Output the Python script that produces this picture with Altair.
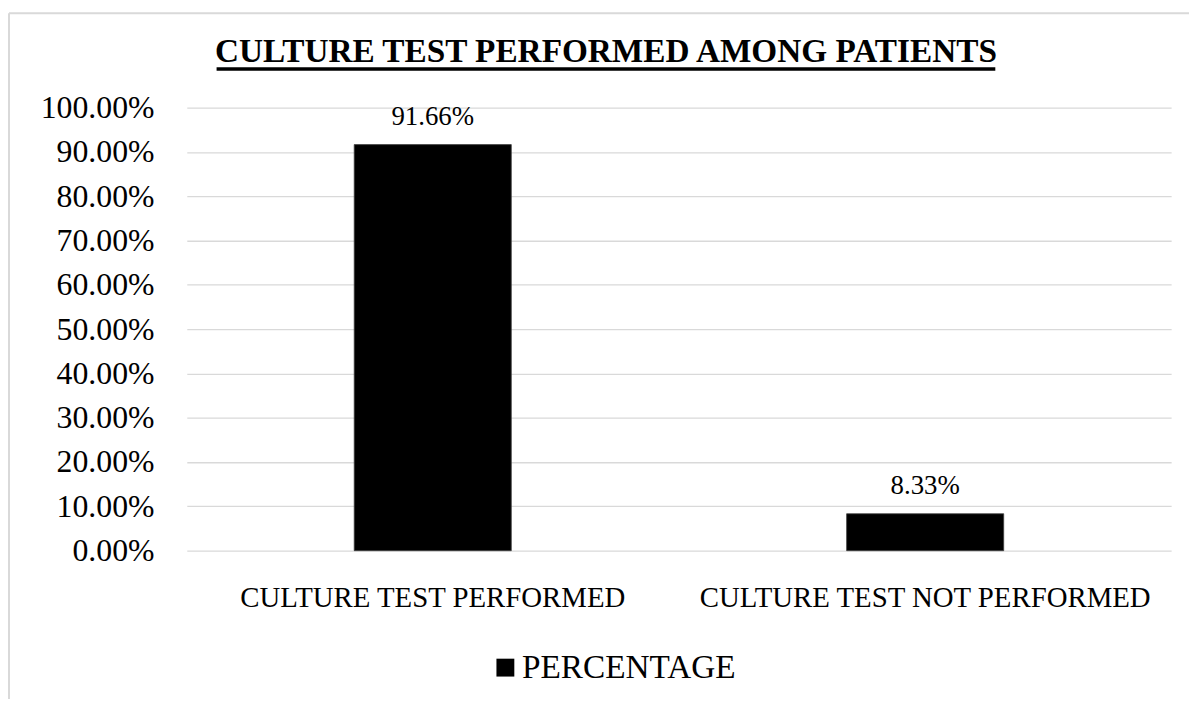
import altair as alt
import pandas as pd

categories = ["CULTURE TEST PERFORMED", "CULTURE TEST NOT PERFORMED"]
percentages = [0.9166, 0.0833]
series = ["PERCENTAGE", "PERCENTAGE"]
y_ticks = [0.0, 0.1, 0.2, 0.3, 0.4, 0.5, 0.6, 0.7, 0.8, 0.9, 1.0]
title_text = ["CULTURE TEST PERFORMED AMONG PATIENTS"]

df = pd.DataFrame({"category": categories, "value": percentages, "series": series})
title_df = pd.DataFrame({"t": title_text})
one = pd.DataFrame({"k": [0]})

W, H = 991, 446
FONT = "Liberation Serif"
GRID = "#d9d9d9"

x = alt.X("category:N", sort=categories,
          scale=alt.Scale(paddingInner=0.681, paddingOuter=0.34),
          axis=alt.Axis(title=None, labelAngle=0, labelFontSize=29, labelFont=FONT,
                        labelColor="#000000", labelPadding=33, labelLimit=0,
                        domain=False, ticks=False, grid=False))
y = alt.Y("value:Q", scale=alt.Scale(domain=[0, 1]),
          axis=alt.Axis(title=None, values=y_ticks, format=".2%", labelFontSize=32,
                        labelFont=FONT, labelColor="#000000", labelPadding=33,
                        domain=False, ticks=False, gridColor=GRID, gridWidth=1.3))

bars = alt.Chart(df).mark_bar(stroke="#404040", strokeWidth=0.8).encode(
    x=x, y=y,
    color=alt.Color("series:N", scale=alt.Scale(range=["#000000"]),
                    legend=alt.Legend(title=None, orient="none", legendX=304, legendY=547,
                                      symbolType="square", symbolSize=324,
                                      symbolStrokeWidth=0, labelFont=FONT,
                                      labelFontSize=33.5, labelColor="#000000",
                                      labelOffset=0, labelLimit=0))
)

labels = alt.Chart(df).mark_text(baseline="bottom", dy=-14, fontSize=27, font=FONT,
                                 color="#000000").encode(
    x=alt.X("category:N", sort=categories), y="value:Q",
    text=alt.Text("value:Q", format=".2%"))

title = alt.Chart(title_df).mark_text(font=FONT, fontSize=33.5, fontWeight="bold",
                                      baseline="alphabetic", align="center",
                                      color="#000000").encode(
    text="t:N", x=alt.value(422), y=alt.value(-46))

underline = alt.Chart(one).mark_rule(color="#000000", strokeWidth=3.5).encode(
    x=alt.value(30), x2=alt.value(814), y=alt.value(-39))

border_left = alt.Chart(one).mark_rule(color=GRID, strokeWidth=2).encode(
    x=alt.value(-179), y=alt.value(-95), y2=alt.value(700))
border_top = alt.Chart(one).mark_rule(color=GRID, strokeWidth=2).encode(
    x=alt.value(-179), x2=alt.value(1020), y=alt.value(-95))

chart = alt.layer(border_left, border_top, bars, labels, title, underline).properties(
    width=W, height=H,
    autosize=alt.AutoSizeParams(type="none"),
    padding={"left": 180, "top": 98, "right": 18, "bottom": 147},
).configure(background="white").configure_view(stroke=None)

chart.save("out.html", embed_options={"renderer": "svg", "actions": False})
